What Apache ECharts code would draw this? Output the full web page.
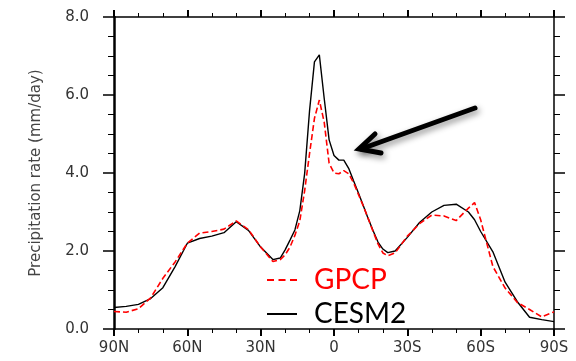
<!DOCTYPE html>
<html>
<head>
<meta charset="utf-8">
<script src="https://cdn.jsdelivr.net/npm/echarts@6/dist/echarts.min.js"></script>
<style>html,body{margin:0;padding:0;background:#fff}#c{width:576px;height:361px}</style>
</head>
<body>
<div id="c"></div>
<script>
// latitude (north positive)
const lats = [90,85,80,75,70,65,60,55,50,45,40,35,30,25,22,20,18,16,14,12,10,8,6,4,2,0,-2,-4,-6,-8,-10,-12,-14,-16,-18,-20,-22,-25,-30,-35,-40,-45,-50,-55,-57.5,-60,-65,-70,-75,-80,-85,-90];
const gpcp = [0.45,0.43,0.52,0.80,1.30,1.72,2.20,2.46,2.50,2.56,2.77,2.55,2.10,1.73,1.78,1.90,2.10,2.40,2.77,3.55,4.50,5.40,5.87,5.30,4.25,4.00,3.98,4.06,3.98,3.75,3.45,3.15,2.83,2.50,2.18,1.95,1.88,1.95,2.38,2.70,2.92,2.90,2.78,3.10,3.24,2.80,1.60,1.05,0.68,0.50,0.31,0.44];
const cesm2 = [0.55,0.58,0.63,0.78,1.06,1.60,2.20,2.32,2.38,2.47,2.75,2.53,2.10,1.78,1.82,2.03,2.28,2.54,3.03,3.99,5.60,6.85,7.03,5.91,4.85,4.45,4.33,4.33,4.12,3.80,3.49,3.16,2.83,2.52,2.23,2.05,1.96,2.00,2.35,2.73,3.00,3.17,3.20,3.00,2.80,2.50,1.98,1.20,0.70,0.30,0.24,0.19];
const seriesNames = ['GPCP','CESM2'];
const yTicks = ['0.0','2.0','4.0','6.0','8.0'];

const latLabel = v => v > 0 ? v + 'N' : (v < 0 ? (-v) + 'S' : '0');
const pair = arr => lats.map((l, i) => [l, arr[i]]);

const chart = echarts.init(document.getElementById('c'), null, {renderer: 'canvas'});
const labelFont = {fontFamily: 'DejaVu Sans', fontSize: 15, color: '#333'};
const xBase = {
  type: 'value', min: -90, max: 90, interval: 30, inverse: true,
  axisLine: {show: true, onZero: false, lineStyle: {color: '#000', width: 1.5}},
  axisTick: {show: true, inside: false, length: 7, lineStyle: {color: '#000', width: 2}},
  minorTick: {show: true, splitNumber: 3, length: 4, lineStyle: {color: '#000', width: 1}},
  splitLine: {show: false}, minorSplitLine: {show: false}
};
const yBase = {
  type: 'value', min: 0, max: 8, interval: 2,
  axisLine: {show: true, onZero: false, lineStyle: {color: '#000', width: 1.5}},
  axisTick: {show: true, inside: false, length: 11, lineStyle: {color: '#000', width: 1.5}},
  minorTick: {show: true, splitNumber: 4, length: 6, lineStyle: {color: '#000', width: 1}},
  splitLine: {show: false}, minorSplitLine: {show: false}
};
chart.setOption({
  animation: false,
  backgroundColor: '#fff',
  grid: {left: 114, right: 22, top: 17, bottom: 32},
  xAxis: [
    Object.assign({}, xBase, {position: 'bottom',
      axisLabel: Object.assign({}, labelFont, {margin: 12, formatter: latLabel})}),
    Object.assign({}, xBase, {position: 'top', axisLabel: {show: false}})
  ],
  yAxis: [
    Object.assign({}, yBase, {position: 'left',
      axisLine: {show: true, onZero: false, lineStyle: {color: '#000', width: 2.5}},
      name: 'Precipitation rate (mm/day)', nameLocation: 'middle', nameGap: 70, nameRotate: 90,
      nameTextStyle: {fontFamily: 'DejaVu Sans', fontSize: 15, color: '#444'},
      axisLabel: Object.assign({}, labelFont, {margin: 25, formatter: v => yTicks[v / 2]})}),
    Object.assign({}, yBase, {position: 'right', axisLabel: {show: false}})
  ],
  legend: {
    orient: 'vertical', left: 262, top: 261, itemWidth: 30, itemHeight: 2, itemGap: 6,
    textStyle: {fontFamily: 'Lato', fontSize: 28, padding: [0, 0, 0, 12]},
    data: [
      {name: 'GPCP', icon: 'path://M0,0h7v2h-7z M11.5,0h7v2h-7z M23,0h7v2h-7z',
       itemStyle: {color: '#ff0000'}, textStyle: {color: '#ff0000'}},
      {name: 'CESM2', icon: 'rect', itemStyle: {color: '#000'}, textStyle: {color: '#000'}}
    ],
    selectedMode: false
  },
  series: [
    {name: seriesNames[0], type: 'line', data: pair(gpcp), symbol: 'none', z: 3,
     lineStyle: {color: '#ff0000', width: 1.6, type: [6, 3]}, itemStyle: {color: '#ff0000'}},
    {name: seriesNames[1], type: 'line', data: pair(cesm2), symbol: 'none', z: 2,
     lineStyle: {color: '#000', width: 1.4}, itemStyle: {color: '#000'}}
  ],
  graphic: [
    {type: 'group', z: 100, children: [
      {type: 'polyline', shape: {points: [[475, 108], [361, 149]]},
       style: {stroke: '#000', lineWidth: 5, lineCap: 'round', fill: null,
               shadowBlur: 6, shadowColor: 'rgba(0,0,0,0.45)', shadowOffsetX: 2, shadowOffsetY: 3}},
      {type: 'polyline', shape: {points: [[375, 134], [359, 149], [381, 153]]},
       style: {stroke: '#000', lineWidth: 5, lineCap: 'round', lineJoin: 'miter', fill: null,
               shadowBlur: 6, shadowColor: 'rgba(0,0,0,0.45)', shadowOffsetX: 2, shadowOffsetY: 3}}
    ]}
  ]
});
</script>
</body>
</html>
